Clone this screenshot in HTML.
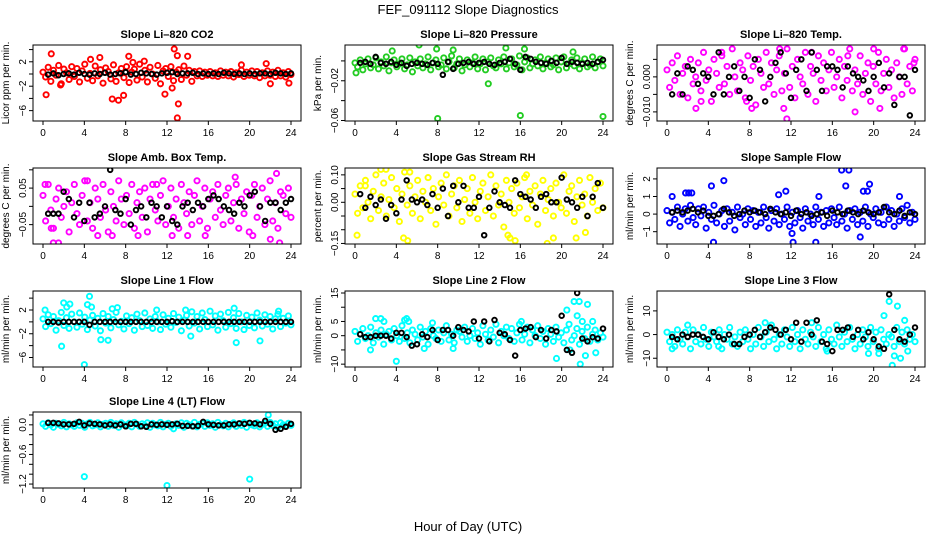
<!DOCTYPE html>
<html><head><meta charset="utf-8"><title>FEF_091112 Slope Diagnostics</title>
<style>
html,body{margin:0;padding:0;background:#fff;}
svg{display:block;font-family:"Liberation Sans",Arial,sans-serif;}
</style></head>
<body>
<svg id="chart" width="936" height="540" viewBox="0 0 936 540">
<text x="468" y="14" text-anchor="middle" font-size="13">FEF_091112  Slope Diagnostics</text>
<text x="468" y="531" text-anchor="middle" font-size="13">Hour of Day (UTC)</text>
</svg>
<script>
const hourTicks=[0,4,8,12,16,20,24];

const co2Band=[0.3,-0.5,1.1,-1.2,0.6,-0.2,1.4,-1.6,0.8,0.2,-0.9,1.2,-0.4,0.9,-1.3,0.5,1.6,-0.7,0.1,-1.1,1.3,-0.3,0.7,-1.5,1.0,0.4,-0.8,1.5,-1.2,0.2,0.9,-0.6,1.2,-1.4,0.3,0.8,-1.0,1.6,-0.5,0.6,-1.3,1.1,0.0,-0.7,1.4,-1.6,0.5,0.9,-0.4,1.2,-1.1,0.3,0.7,-0.9,1.3,-0.2,0.6,-1.2,0.4,-0.3,0.5,-0.4,0.3,-0.2,0.4,-0.3,0.2,-0.4,0.5,-0.2,0.3,-0.3,0.4,-0.5,0.2,-0.1,0.6,-0.4,0.3,-0.2,0.5,-0.3,0.4,-0.6,0.2,-0.3,0.5,-0.2,0.3,-0.4,0.6,-0.3,0.2,-0.5,0.4,-0.1];
const co2OutX=[0.3,0.8,1.7,4.6,5.5,6.7,7.3,7.8,8.3,8.7,9.8,11.8,12.5,12.7,13.0,13.1,13.0,14.0,19.2,21.6,22.0,23.8];
const co2OutY=[-3.4,3.3,-1.8,2.4,2.7,-4.1,-4.3,-3.5,2.9,1.9,2.1,-3.3,-2.3,4.1,3.0,-4.9,-7.2,2.9,1.5,1.7,-1.6,-1.5];
const co2Black=[-0.1,0.1,-0.2,0.0,0.1,-0.1,0.2,0.0,-0.1,0.1,0.0,0.2,-0.1,0.0,0.1,0.3,-0.1,0.0,0.2,0.1,0.0,-0.1,0.1,0.2,0.3,0.0,0.1,0.1,0.2,0.0,0.1,0.0,0.1,0.0,0.2,0.1,0.0,0.1,0.0,0.1,0.0,0.1,0.1,0.0,0.2,0.1,0.0,0.1];

const pressBand=[-0.002,-0.006,0.001,-0.009,-0.003,0.002,-0.007,-0.004,0.003,-0.008,-0.001,-0.005,0.004,-0.010,-0.002,0.001,-0.006,-0.003,0.002,-0.008,-0.004,0.003,-0.011,-0.001,-0.005,0.002,-0.007,-0.003,0.004,-0.009,-0.002,0.001,-0.006,-0.004,0.003,-0.008,-0.001,0.005,-0.007,-0.003,0.002,-0.010,-0.004,0.001,-0.006,-0.002,0.004,-0.008,-0.003,0.002,-0.009,-0.001,0.003,-0.005,-0.007,0.001,-0.003,0.004,-0.008,-0.002,0.002,-0.006,-0.004,0.005,-0.009,-0.001,0.003,-0.007,-0.003,0.001,-0.005,0.004,-0.008,-0.002,0.002,-0.006,-0.004,0.003,-0.009,-0.001,0.004,-0.007,-0.003,0.001,-0.005,0.003,-0.008,-0.002,0.002,-0.006,-0.004,0.004,-0.007,-0.001,0.002,-0.005];
const pressOutX=[0.1,3.6,6.2,7.9,8.0,9.5,12.9,14.6,16.0,16.4,21.1,24.0];
const pressOutY=[-0.012,0.010,0.016,0.012,-0.058,0.011,-0.023,0.013,-0.055,0.012,0.009,-0.056];
const pressBlack=[-0.002,-0.001,-0.003,0.004,-0.002,-0.003,-0.001,-0.004,-0.002,-0.005,-0.003,-0.002,-0.003,-0.004,-0.002,-0.003,-0.014,-0.001,-0.008,-0.003,-0.002,-0.001,-0.003,-0.002,-0.001,-0.003,-0.004,-0.002,-0.001,0.002,-0.003,-0.009,0.004,0.002,-0.001,-0.002,-0.003,0.000,-0.002,0.003,-0.003,-0.001,-0.002,-0.003,-0.002,-0.003,-0.001,0.001];

const tempBand=[0.002,-0.003,0.004,-0.001,0.006,-0.005,0.001,0.003,-0.006,0.005,-0.002,0.000,0.004,-0.004,0.007,-0.001,0.002,-0.007,0.005,0.001,-0.003,0.006,-0.002,0.003,-0.005,0.008,0.000,-0.004,0.004,0.002,-0.006,0.006,-0.001,0.003,-0.008,0.005,0.001,-0.003,0.007,-0.002,0.004,-0.005,0.002,0.006,-0.004,0.001,0.008,-0.003,0.003,-0.006,0.005,0.000,-0.002,0.007,-0.005,0.003,0.001,-0.007,0.006,-0.001,0.004,-0.004,0.002,0.007,-0.003,0.000,0.005,-0.006,0.003,-0.001,0.008,-0.004,0.002,-0.002,0.006,-0.005,0.001,0.004,-0.007,0.003,-0.002,0.007,-0.004,0.001,0.005,-0.003,0.002,-0.006,0.004,0.000,-0.005,0.008,-0.002,0.003,-0.004,0.005];
const tempOutX=[2.8,3.3,5.3,7.7,8.2,10.9,11.3,11.6,14.0,17.5,18.2,20.0,20.6,22.9,23.9];
const tempOutY=[-0.009,-0.007,0.007,-0.007,-0.009,0.008,-0.009,-0.012,0.007,0.006,-0.010,0.008,-0.009,0.008,0.004];
const tempBlack=[-0.005,0.001,-0.005,0.003,0.002,-0.002,0.001,0.0,-0.005,0.007,-0.005,0.0,0.003,-0.004,0.0,-0.006,0.005,0.002,-0.007,0.0,0.004,0.007,0.001,-0.006,0.002,0.005,-0.004,0.007,0.002,-0.004,0.003,0.003,0.002,-0.003,0.003,0.001,0.0,-0.001,-0.004,0.0,0.004,-0.003,0.001,-0.008,0.0,0.0,-0.011,0.002];

const ambBand=[0.03,-0.04,0.06,-0.01,-0.06,0.02,0.05,-0.03,0.00,0.04,-0.07,0.01,0.06,-0.02,-0.05,0.03,0.07,-0.04,0.01,-0.06,0.05,0.02,-0.03,0.06,-0.01,-0.07,0.04,0.00,-0.04,0.07,0.02,-0.05,0.03,-0.02,0.06,-0.06,0.01,0.04,-0.03,0.05,-0.07,0.02,0.06,-0.01,-0.04,0.03,0.07,-0.05,0.00,0.05,-0.03,0.02,-0.06,0.06,0.01,-0.02,0.04,-0.05,0.03,0.07,-0.04,0.00,0.05,-0.06,0.02,0.04,-0.03,0.06,-0.01,-0.05,0.03,0.05,-0.04,0.01,0.06,-0.06,0.02,-0.02,0.04,-0.07,0.03,0.06,-0.03,0.00,0.05,-0.05,0.02,0.07,-0.04,0.01,-0.06,0.04,0.03,-0.02,0.05,-0.03];
const ambOutX=[0.2,0.8,1.0,1.5,4.3,5.3,6.7,9.2,11.0,12.5,14.0,15.7,18.6,20.3,22.0,22.6,22.9];
const ambOutY=[0.06,-0.06,-0.10,-0.10,0.07,-0.08,-0.08,-0.08,0.06,-0.08,-0.08,-0.08,0.08,-0.08,-0.09,0.09,-0.10];
const ambBlack=[-0.02,-0.02,-0.02,0.04,0.02,-0.03,0.01,-0.04,0.01,-0.03,-0.02,0.00,0.10,-0.01,-0.02,0.02,-0.05,-0.01,0.00,-0.03,0.01,0.00,-0.03,0.00,-0.04,-0.05,0.00,0.01,-0.01,0.01,0.00,0.02,0.03,0.02,0.00,-0.01,-0.02,0.01,0.00,0.03,0.04,0.00,-0.04,0.01,0.01,-0.01,0.01,0.02];

const rhBand=[0.03,-0.04,0.06,-0.02,0.08,0.00,-0.06,0.04,0.10,-0.03,0.02,0.07,-0.05,0.01,0.09,-0.02,0.05,-0.07,0.03,0.11,-0.01,0.06,-0.04,0.02,0.08,-0.06,0.04,0.00,0.09,-0.03,0.05,-0.08,0.02,0.07,-0.01,0.10,-0.05,0.03,0.06,-0.02,0.08,-0.07,0.01,0.05,-0.04,0.09,0.00,-0.06,0.04,0.07,-0.03,0.02,0.10,-0.05,0.06,-0.01,0.03,-0.09,0.08,0.00,0.05,-0.04,0.07,-0.02,0.02,0.09,-0.06,0.04,-0.01,0.06,-0.08,0.03,0.08,-0.03,0.01,0.05,-0.05,0.07,0.00,-0.02,0.10,-0.04,0.04,0.06,-0.07,0.02,0.08,-0.01,0.03,-0.05,0.09,0.00,0.05,-0.03,0.07,-0.02];
const rhOutX=[0.2,1.0,2.5,3.0,4.7,5.1,5.3,14.8,15.0,15.5,16.6,18.6,19.2,21.4,22.3];
const rhOutY=[-0.12,0.06,0.12,0.12,-0.13,-0.14,0.11,-0.12,-0.13,-0.14,0.10,-0.15,-0.13,-0.13,-0.11];
const rhBlack=[0.03,-0.02,0.02,-0.01,0.01,-0.06,-0.01,-0.04,0.01,0.08,0.01,0.00,0.01,-0.01,0.03,-0.02,0.05,-0.05,0.06,0.00,0.06,-0.02,-0.02,0.02,-0.12,-0.02,0.04,0.00,-0.01,-0.02,0.08,0.03,0.02,0.01,-0.02,0.02,0.03,0.00,0.00,0.09,0.01,0.00,-0.02,0.02,-0.05,0.02,0.07,-0.02];

const sampBand=[0.2,-0.5,0.1,-0.3,0.4,-0.7,0.0,0.3,-0.4,0.5,-0.2,-0.6,0.3,-0.1,0.4,-0.8,0.1,-0.3,0.5,-0.5,0.0,0.2,-0.7,0.3,-0.4,0.1,-0.9,0.4,-0.2,0.0,-0.6,0.3,-0.3,0.2,-0.7,0.1,-0.5,0.4,-0.2,-0.8,0.2,-0.4,0.3,-0.6,0.0,-0.3,0.4,-0.7,0.1,-0.5,0.2,-0.2,-0.8,0.3,-0.4,0.0,-0.6,0.4,-0.3,0.1,-0.7,0.2,-0.5,0.3,-0.2,-0.6,0.4,-0.4,0.0,-0.8,0.2,-0.3,0.3,-0.6,0.1,-0.4,0.4,-0.7,0.0,-0.2,0.3,-0.5,0.1,-0.6,0.4,-0.3,0.2,-0.7,0.0,-0.4,0.3,-0.2,0.5,-0.5,0.1,-0.3];
const sampOutX=[0.5,1.8,2.1,2.4,4.3,4.5,5.5,10.8,11.5,12.1,12.2,14.4,14.7,16.9,17.3,17.6,18.7,19.0,19.4,19.6,22.5];
const sampOutY=[1.0,1.2,1.2,1.2,1.6,-1.6,1.9,1.1,1.3,-1.1,-1.6,-1.6,1.0,2.5,1.6,2.5,-1.3,1.3,1.3,1.7,1.0];
const sampBlack=[0.1,0.2,0.1,0.2,0.3,0.1,0.2,-0.1,-0.1,0.0,0.3,0.1,-0.1,0.0,0.2,0.1,0.2,0.1,0.0,0.3,0.1,0.0,0.1,-0.1,0.2,0.0,0.1,-0.1,0.0,0.1,-0.1,0.2,0.1,0.0,0.2,0.1,0.0,0.2,0.1,0.0,0.1,0.4,0.1,0.0,0.2,-0.1,0.1,0.0];

const l1Band=[0.5,-0.8,1.2,-0.3,0.9,-1.4,0.2,1.6,-0.6,0.7,-1.1,1.3,0.0,-0.9,1.5,-0.4,0.8,-1.3,0.3,1.1,-0.7,0.6,-1.5,1.4,-0.2,0.9,-1.0,0.4,1.6,-0.5,0.1,-1.2,1.0,-0.3,0.7,-1.4,1.3,0.2,-0.8,1.5,-0.6,0.5,-1.1,0.9,0.0,-1.3,1.2,-0.4,0.6,-0.9,1.4,-0.1,0.8,-1.5,0.3,1.1,-0.7,1.7,-0.2,0.9,-1.2,1.5,0.4,-0.8,1.8,-0.5,1.0,-1.4,1.3,0.2,-0.9,1.6,-0.3,0.7,-1.1,1.4,0.0,-1.3,1.1,-0.6,0.8,-1.0,1.5,0.3,-0.7,1.2,-0.4,0.9,-1.2,0.5,1.3,-0.8,0.6,-0.2,1.0,-0.5];
const l1OutX=[0.2,1.8,2.0,2.3,2.6,4.0,4.3,4.5,4.7,5.6,6.3,6.7,7.2,11.0,13.8,14.3,18.5,18.7,21.0,22.8];
const l1OutY=[2.0,-4.1,3.2,2.5,3.0,-7.2,2.9,4.3,2.5,-3.0,-3.1,2.2,2.4,2.0,2.0,-2.4,2.3,-3.5,-3.2,1.8];
const l1Black=[0.0,0.0,-0.1,0.0,0.0,0.0,0.0,0.0,-0.5,0.0,0.0,0.0,0.0,0.0,0.0,0.0,0.0,0.0,0.0,0.0,0.0,0.0,0.0,0.0,0.1,0.0,0.0,0.0,0.0,0.0,0.0,0.0,0.0,0.0,0.0,0.0,0.0,0.0,0.0,0.0,0.0,0.0,0.0,0.0,0.0,0.0,0.0,0.0];

const l2Band=[1.5,-2.0,0.5,2.5,-1.0,0.0,3.0,-2.5,1.0,-0.5,2.0,-3.0,0.5,1.5,-1.5,2.5,0.0,-2.0,3.5,-1.0,1.0,-2.5,2.0,0.5,-1.5,3.0,-0.5,1.5,-3.0,2.5,0.0,-1.0,2.0,-2.0,1.0,3.5,-1.5,0.5,-2.5,2.0,1.5,-0.5,3.0,-2.0,0.0,2.5,-1.0,1.0,-3.0,3.5,0.5,-1.5,2.0,-0.5,4.0,-2.5,1.5,0.0,3.0,-1.0,2.5,-2.0,1.0,4.0,-1.5,0.5,3.0,-2.5,2.0,0.0,3.5,-1.0,1.5,-3.0,2.5,0.5,-2.0,3.0,-0.5,1.0,-2.5,2.0,4.0,-1.5,0.0,2.5,-3.0,1.5,-1.0,3.0,-2.0,0.5,2.0,-1.5,1.0,-0.5];
const l2OutX=[1.5,2.0,2.5,2.8,4.0,4.8,5.0,5.2,6.7,7.5,9.5,16.1,19.5,20.5,20.8,21.2,21.5,21.7,21.8,22.0,22.3,22.5,23.0,23.3];
const l2OutY=[-5.0,6.0,6.0,5.0,-9.0,5.5,6.0,5.0,-4.5,4.5,-4.5,5.0,-8.0,9.0,-5.0,12.0,7.0,12.0,-10.0,5.0,-7.0,11.0,5.0,-6.0];
const l2Black=[0.5,-0.5,-0.5,0.0,0.0,0.0,-1.0,1.0,1.0,-0.5,-3.5,-3.0,0.5,-0.5,2.0,-1.5,2.0,2.0,0.0,3.0,2.0,1.5,5.0,-1.0,5.0,-2.0,5.5,1.0,0.5,-1.5,-7.0,2.0,2.5,3.0,-0.5,2.0,-1.0,2.0,1.5,7.0,-5.0,-6.0,15.0,-1.0,-2.0,-0.5,-1.0,2.5];

const l3Band=[1,-3,0,-5,2,-2,-4,1,-1,-6,2,-3,0,-4,3,-2,-5,1,-1,-3,2,-6,0,-2,3,-4,-1,-5,1,-3,2,-2,-6,0,-4,3,-1,-5,1,-3,4,-2,-6,0,-4,2,-1,-5,3,-3,0,-6,2,-2,-4,1,-1,-5,3,-3,0,-6,2,-2,-4,4,-1,-5,1,-3,3,-2,-6,0,-4,2,-1,-5,3,-3,1,-6,2,-2,-4,0,-1,-5,3,-3,1,-4,2,-2,0,-3];
const l3OutX=[0.5,2.0,5.0,9.5,14.0,15.5,19.5,20.5,21.0,21.5,21.8,22.0,22.3,22.6,23.0,23.3];
const l3OutY=[-6,4,-5,5,5,-7,-8,-8,8,14,-13,-9,12,-10,6,-7];
const l3Black=[-1,-2,0,-1,0,0,-1,-2,1,-1,-2,0,-4,-4,-1,0,2,-1,1,3,2,0,2,-2,5,-3,5,0,6,-3,-4,-7,2,2,3,-1,2,-2,1,-2,-5,-6,17,2,-2,-3,0,3];

const l4Band=[0.02,-0.03,0.04,0.00,-0.05,0.03,0.01,-0.02,0.05,-0.04,0.02,0.00,-0.03,0.04,-0.01,0.03,-0.05,0.02,0.05,-0.02,0.00,0.04,-0.04,0.01,0.03,-0.03,0.05,-0.01,0.02,-0.05,0.04,0.00,-0.02,0.03,-0.04,0.05,0.01,-0.03,0.02,-0.01,0.04,-0.05,0.03,0.00,-0.02,0.05,-0.04,0.01,0.03,-0.03,-0.08,0.02,-0.01,0.04,-0.05,0.03,0.00,-0.02,0.05,-0.04,0.01,0.03,-0.03,0.04,-0.01,0.02,-0.05,0.05,0.00,-0.02,0.03,-0.04,0.01,0.04,-0.03,0.02,-0.01,0.05,-0.05,0.03,0.00,-0.02,0.04,-0.04,0.01,0.03,-0.03,0.05,-0.01,0.02,-0.05,0.04,0.00,-0.02,0.03,-0.01];
const l4OutX=[4.0,12.0,20.0,21.8];
const l4OutY=[-1.05,-1.23,-1.10,0.20];
const l4Black=[0.04,0.04,0.03,0.01,0.01,0.02,0.06,-0.01,0.03,0.02,0.01,-0.01,0.01,-0.01,0.01,-0.03,0.02,0.02,-0.03,-0.04,0.01,0.00,0.01,0.00,0.01,0.02,-0.02,-0.02,-0.03,-0.02,0.06,0.01,0.00,-0.01,-0.01,0.01,0.01,0.03,0.02,0.04,0.03,0.01,0.08,0.02,-0.10,-0.08,-0.04,0.02];

const panels=[
 {key:'co2',title:'Slope Li\u2013820 CO2',ylab:'Licor ppm per min.',col:'#ff0000',r:0,c:0,dom:[-7.7,4.75],ticks:[-6,-4,-2,0,2,4],labs:{'-6':'\u22126','-2':'\u22122','2':'2'},band:co2Band,ox:co2OutX,oy:co2OutY,blk:co2Black},
 {key:'pressure',title:'Slope Li\u2013820 Pressure',ylab:'kPa per min.',col:'#22cc22',r:0,c:1,dom:[-0.0605,0.016],ticks:[-0.06,-0.04,-0.02,0],labs:{'-0.06':'\u22120.06','-0.02':'\u22120.02'},band:pressBand,ox:pressOutX,oy:pressOutY,blk:pressBlack},
 {key:'temp',title:'Slope Li\u2013820 Temp.',ylab:'degrees C per min.',col:'#ff00ff',r:0,c:2,dom:[-0.0126,0.0091],ticks:[-0.01,-0.005,0,0.005],labs:{'-0.01':'\u22120.010','0':'0.000'},band:tempBand,ox:tempOutX,oy:tempOutY,blk:tempBlack},
 {key:'amb-box-temp',title:'Slope Amb. Box Temp.',ylab:'degrees C per min.',col:'#ff00ff',r:1,c:0,dom:[-0.103,0.105],ticks:[-0.05,0,0.05,0.1],labs:{'-0.05':'\u22120.05','0.05':'0.05'},band:ambBand,ox:ambOutX,oy:ambOutY,blk:ambBlack},
 {key:'gas-rh',title:'Slope Gas Stream RH',ylab:'percent per min.',col:'#ffff00',r:1,c:1,dom:[-0.152,0.125],ticks:[-0.15,-0.1,-0.05,0,0.05,0.1],labs:{'-0.15':'\u22120.15','0':'0.00','0.1':'0.10'},band:rhBand,ox:rhOutX,oy:rhOutY,blk:rhBlack},
 {key:'sample-flow',title:'Slope Sample Flow',ylab:'ml/min per min.',col:'#0000ff',r:1,c:2,dom:[-1.7,2.62],ticks:[-1,0,1,2],labs:{'-1':'\u22121','0':'0','1':'1','2':'2'},band:sampBand,ox:sampOutX,oy:sampOutY,blk:sampBlack},
 {key:'line1-flow',title:'Slope Line 1 Flow',ylab:'ml/min per min.',col:'#00ffff',r:2,c:0,dom:[-7.6,5.2],ticks:[-6,-4,-2,0,2,4],labs:{'-6':'\u22126','-2':'\u22122','2':'2'},band:l1Band,ox:l1OutX,oy:l1OutY,blk:l1Black},
 {key:'line2-flow',title:'Slope Line 2 Flow',ylab:'ml/min per min.',col:'#00ffff',r:2,c:1,dom:[-11,15.7],ticks:[-10,-5,0,5,10,15],labs:{'-10':'\u221210','0':'0','5':'5','15':'15'},band:l2Band,ox:l2OutX,oy:l2OutY,blk:l2Black},
 {key:'line3-flow',title:'Slope Line 3 Flow',ylab:'ml/min per min.',col:'#00ffff',r:2,c:2,dom:[-13.7,18.4],ticks:[-10,0,10],labs:{'-10':'\u221210','0':'0','10':'10'},band:l3Band,ox:l3OutX,oy:l3OutY,blk:l3Black},
 {key:'line4-flow',title:'Slope Line 4 (LT) Flow',ylab:'ml/min per min.',col:'#00ffff',r:3,c:0,dom:[-1.28,0.26],ticks:[-1.2,-1.0,-0.8,-0.6,-0.4,-0.2,0,0.2],labs:{'-1.2':'\u22121.2','-0.6':'\u22120.6','0':'0.0'},band:l4Band,ox:l4OutX,oy:l4OutY,blk:l4Black}
];

const NS='http://www.w3.org/2000/svg';
const svg=document.getElementById('chart');
const colLeft=[33,345,657], rowTop=[45,168,291,412], W=268, H=76;
function mk(tag,attrs,parent){const e=document.createElementNS(NS,tag);for(const k in attrs)e.setAttribute(k,attrs[k]);parent.appendChild(e);return e;}

panels.forEach(p=>{
  const L=colLeft[p.c], T=rowTop[p.r];
  const g=mk('g',{},svg);
  
  
  const xs=h=>L+10+h*(248/24);
  const ys=v=>T+H-(v-p.dom[0])/(p.dom[1]-p.dom[0])*H;
  const t=mk('text',{x:L+W/2,y:T-7,'text-anchor':'middle','font-size':'11','font-weight':'bold'},g);
  t.textContent=p.title;
  
  
  const yl=mk('text',{x:0,y:0,transform:`translate(${L-24},${T+H/2}) rotate(-90)`,'text-anchor':'middle','font-size':'10'},g);
  yl.textContent=p.ylab;
  
  
  const xa=mk('g',{},g);
  
  
  mk('line',{x1:xs(0),x2:xs(24),y1:T+H,y2:T+H,stroke:'#000'},xa);
  hourTicks.forEach(h=>{
    mk('line',{x1:xs(h),x2:xs(h),y1:T+H,y2:T+H+4,stroke:'#000'},xa);
    const tl=mk('text',{x:xs(h),y:T+H+15,'text-anchor':'middle','font-size':'10'},xa);
    tl.textContent=h;
    
    
  });
  const ya=mk('g',{},g);
  
  
  mk('line',{x1:L,x2:L,y1:ys(p.ticks[0]),y2:ys(p.ticks[p.ticks.length-1]),stroke:'#000'},ya);
  p.ticks.forEach(v=>{
    mk('line',{x1:L-4,x2:L,y1:ys(v),y2:ys(v),stroke:'#000'},ya);
    const s=p.labs[String(v)];
    if(s){
      const tl=mk('text',{x:0,y:0,transform:`translate(${L-7},${ys(v)}) rotate(-90)`,'text-anchor':'middle','font-size':'10'},ya);
      tl.textContent=s;
      
      
    }
  });
  const cid='clip-'+p.key;
  const cp=mk('clipPath',{id:cid},g);
  mk('rect',{x:L,y:T,width:W,height:H},cp);
  const pts=mk('g',{'clip-path':`url(#${cid})`,fill:'none','stroke-width':'1.9'},g);
  
  
  const n=p.band.length;
  p.band.forEach((v,i)=>{
    const c=mk('circle',{cx:xs(i*24/(n-1)),cy:ys(v),r:2.6,stroke:p.col},pts);
    
    
  });
  p.ox.forEach((h,i)=>{
    const c=mk('circle',{cx:xs(h),cy:ys(p.oy[i]),r:2.6,stroke:p.col},pts);
    
    
  });
  const m=p.blk.length;
  p.blk.forEach((v,i)=>{
    const c=mk('circle',{cx:xs(0.5+i*23.5/(m-1)),cy:ys(v),r:2.3,stroke:'#000'},pts);
    
    
  });
  const box=mk('rect',{x:L,y:T,width:W,height:H,fill:'none',stroke:'#000'},g);
  
  
});
</script>
</body></html>
